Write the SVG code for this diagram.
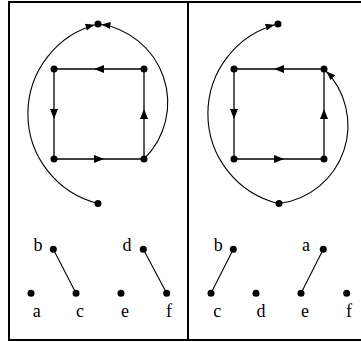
<svg xmlns="http://www.w3.org/2000/svg" width="361" height="342" viewBox="0 0 361 342">
<style>
.frame{stroke:#000;stroke-width:2;fill:none}
.edge{stroke:#000;stroke-width:1.3;fill:none}
.arc{stroke:#000;stroke-width:1.1;fill:none}
.dot{fill:#000}
.lbl{font-family:"Liberation Serif","DejaVu Serif",serif;font-size:18px;fill:#000;text-anchor:middle}
</style>
<defs>
<marker id="tip" viewBox="0 0 9 7" refX="12.5" refY="3.5" markerWidth="9" markerHeight="7" markerUnits="userSpaceOnUse" orient="auto">
<path d="M0,0 L9,3.5 L0,7 z" fill="#000"/>
</marker>
<marker id="mid" viewBox="0 0 10 8" refX="5" refY="4" markerWidth="10" markerHeight="8" markerUnits="userSpaceOnUse" orient="auto">
<path d="M0,0 L10,4 L0,8 z" fill="#000"/>
</marker>
</defs>
<g id="frame">
<path class="frame" d="M9,340 V2 H361 M188,2 V340 M8,340 H361"/>
</g>
<g id="connectors">
<!-- left panel square -->
<path class="edge" marker-mid="url(#mid)" d="M144,69 L99,69 L54,69"/>
<path class="edge" marker-mid="url(#mid)" d="M54,69 L54,114 L54,159"/>
<path class="edge" marker-mid="url(#mid)" d="M54,159 L99,159 L144,159"/>
<path class="edge" marker-mid="url(#mid)" d="M144,159 L144,114 L144,69"/>
<path class="arc" marker-end="url(#tip)" d="M98,203.5 A92.5,92.5 0 0 1 98,24"/>
<path class="arc" marker-end="url(#tip)" d="M144,159 A79.1,79.1 0 0 0 98,24"/>
<!-- right panel square -->
<path class="edge" marker-mid="url(#mid)" d="M324,69 L279,69 L234,69"/>
<path class="edge" marker-mid="url(#mid)" d="M234,69 L234,114 L234,159"/>
<path class="edge" marker-mid="url(#mid)" d="M234,159 L279,159 L324,159"/>
<path class="edge" marker-mid="url(#mid)" d="M324,159 L324,114 L324,69"/>
<path class="arc" marker-end="url(#tip)" d="M278,203.5 A92.5,92.5 0 0 1 278,24"/>
<path class="arc" marker-end="url(#tip)" d="M279,203.5 A78.6,78.6 0 0 0 324,69"/>
<!-- bottom pairs -->
<path class="arc" d="M53.3,249.3 L76,293.3 M143.3,249.3 L166.7,293.3"/>
<path class="arc" d="M233.3,249.3 L211,293.3 M323.3,249.3 L301,293.3"/>
</g>
<g id="L-top"><circle class="dot" cx="98" cy="24" r="3.5"/></g>
<g id="L-tl"><circle class="dot" cx="54" cy="69" r="3.5"/></g>
<g id="L-tr"><circle class="dot" cx="144" cy="69" r="3.5"/></g>
<g id="L-bl"><circle class="dot" cx="54" cy="159" r="3.5"/></g>
<g id="L-br"><circle class="dot" cx="144" cy="159" r="3.5"/></g>
<g id="L-bottom"><circle class="dot" cx="98" cy="203.5" r="3.5"/></g>
<g id="R-top"><circle class="dot" cx="278" cy="24" r="3.5"/></g>
<g id="R-tl"><circle class="dot" cx="234" cy="69" r="3.5"/></g>
<g id="R-tr"><circle class="dot" cx="324" cy="69" r="3.5"/></g>
<g id="R-bl"><circle class="dot" cx="234" cy="159" r="3.5"/></g>
<g id="R-br"><circle class="dot" cx="324" cy="159" r="3.5"/></g>
<g id="R-bottom"><circle class="dot" cx="279" cy="203.5" r="3.5"/></g>
<g id="L-a"><circle class="dot" cx="31" cy="293.3" r="3.5"/><text class="lbl" x="36.7" y="316.5">a</text></g>
<g id="L-b"><circle class="dot" cx="53.3" cy="249.3" r="3.5"/><text class="lbl" x="38" y="250.7">b</text></g>
<g id="L-c"><circle class="dot" cx="76" cy="293.3" r="3.5"/><text class="lbl" x="80" y="316.5">c</text></g>
<g id="L-d"><circle class="dot" cx="143.3" cy="249.3" r="3.5"/><text class="lbl" x="127" y="250.7">d</text></g>
<g id="L-e"><circle class="dot" cx="121" cy="293.3" r="3.5"/><text class="lbl" x="125" y="316.5">e</text></g>
<g id="L-f"><circle class="dot" cx="166.7" cy="293.3" r="3.5"/><text class="lbl" x="169" y="316.5">f</text></g>
<g id="R-b"><circle class="dot" cx="233.3" cy="249.3" r="3.5"/><text class="lbl" x="218.3" y="250.7">b</text></g>
<g id="R-a"><circle class="dot" cx="323.3" cy="249.3" r="3.5"/><text class="lbl" x="306" y="250.7">a</text></g>
<g id="R-c"><circle class="dot" cx="211" cy="293.3" r="3.5"/><text class="lbl" x="217.3" y="316.5">c</text></g>
<g id="R-d"><circle class="dot" cx="256" cy="293.3" r="3.5"/><text class="lbl" x="261" y="316.5">d</text></g>
<g id="R-e"><circle class="dot" cx="301" cy="293.3" r="3.5"/><text class="lbl" x="305" y="316.5">e</text></g>
<g id="R-f"><circle class="dot" cx="346.7" cy="293.3" r="3.5"/><text class="lbl" x="349" y="316.5">f</text></g>
</svg>
